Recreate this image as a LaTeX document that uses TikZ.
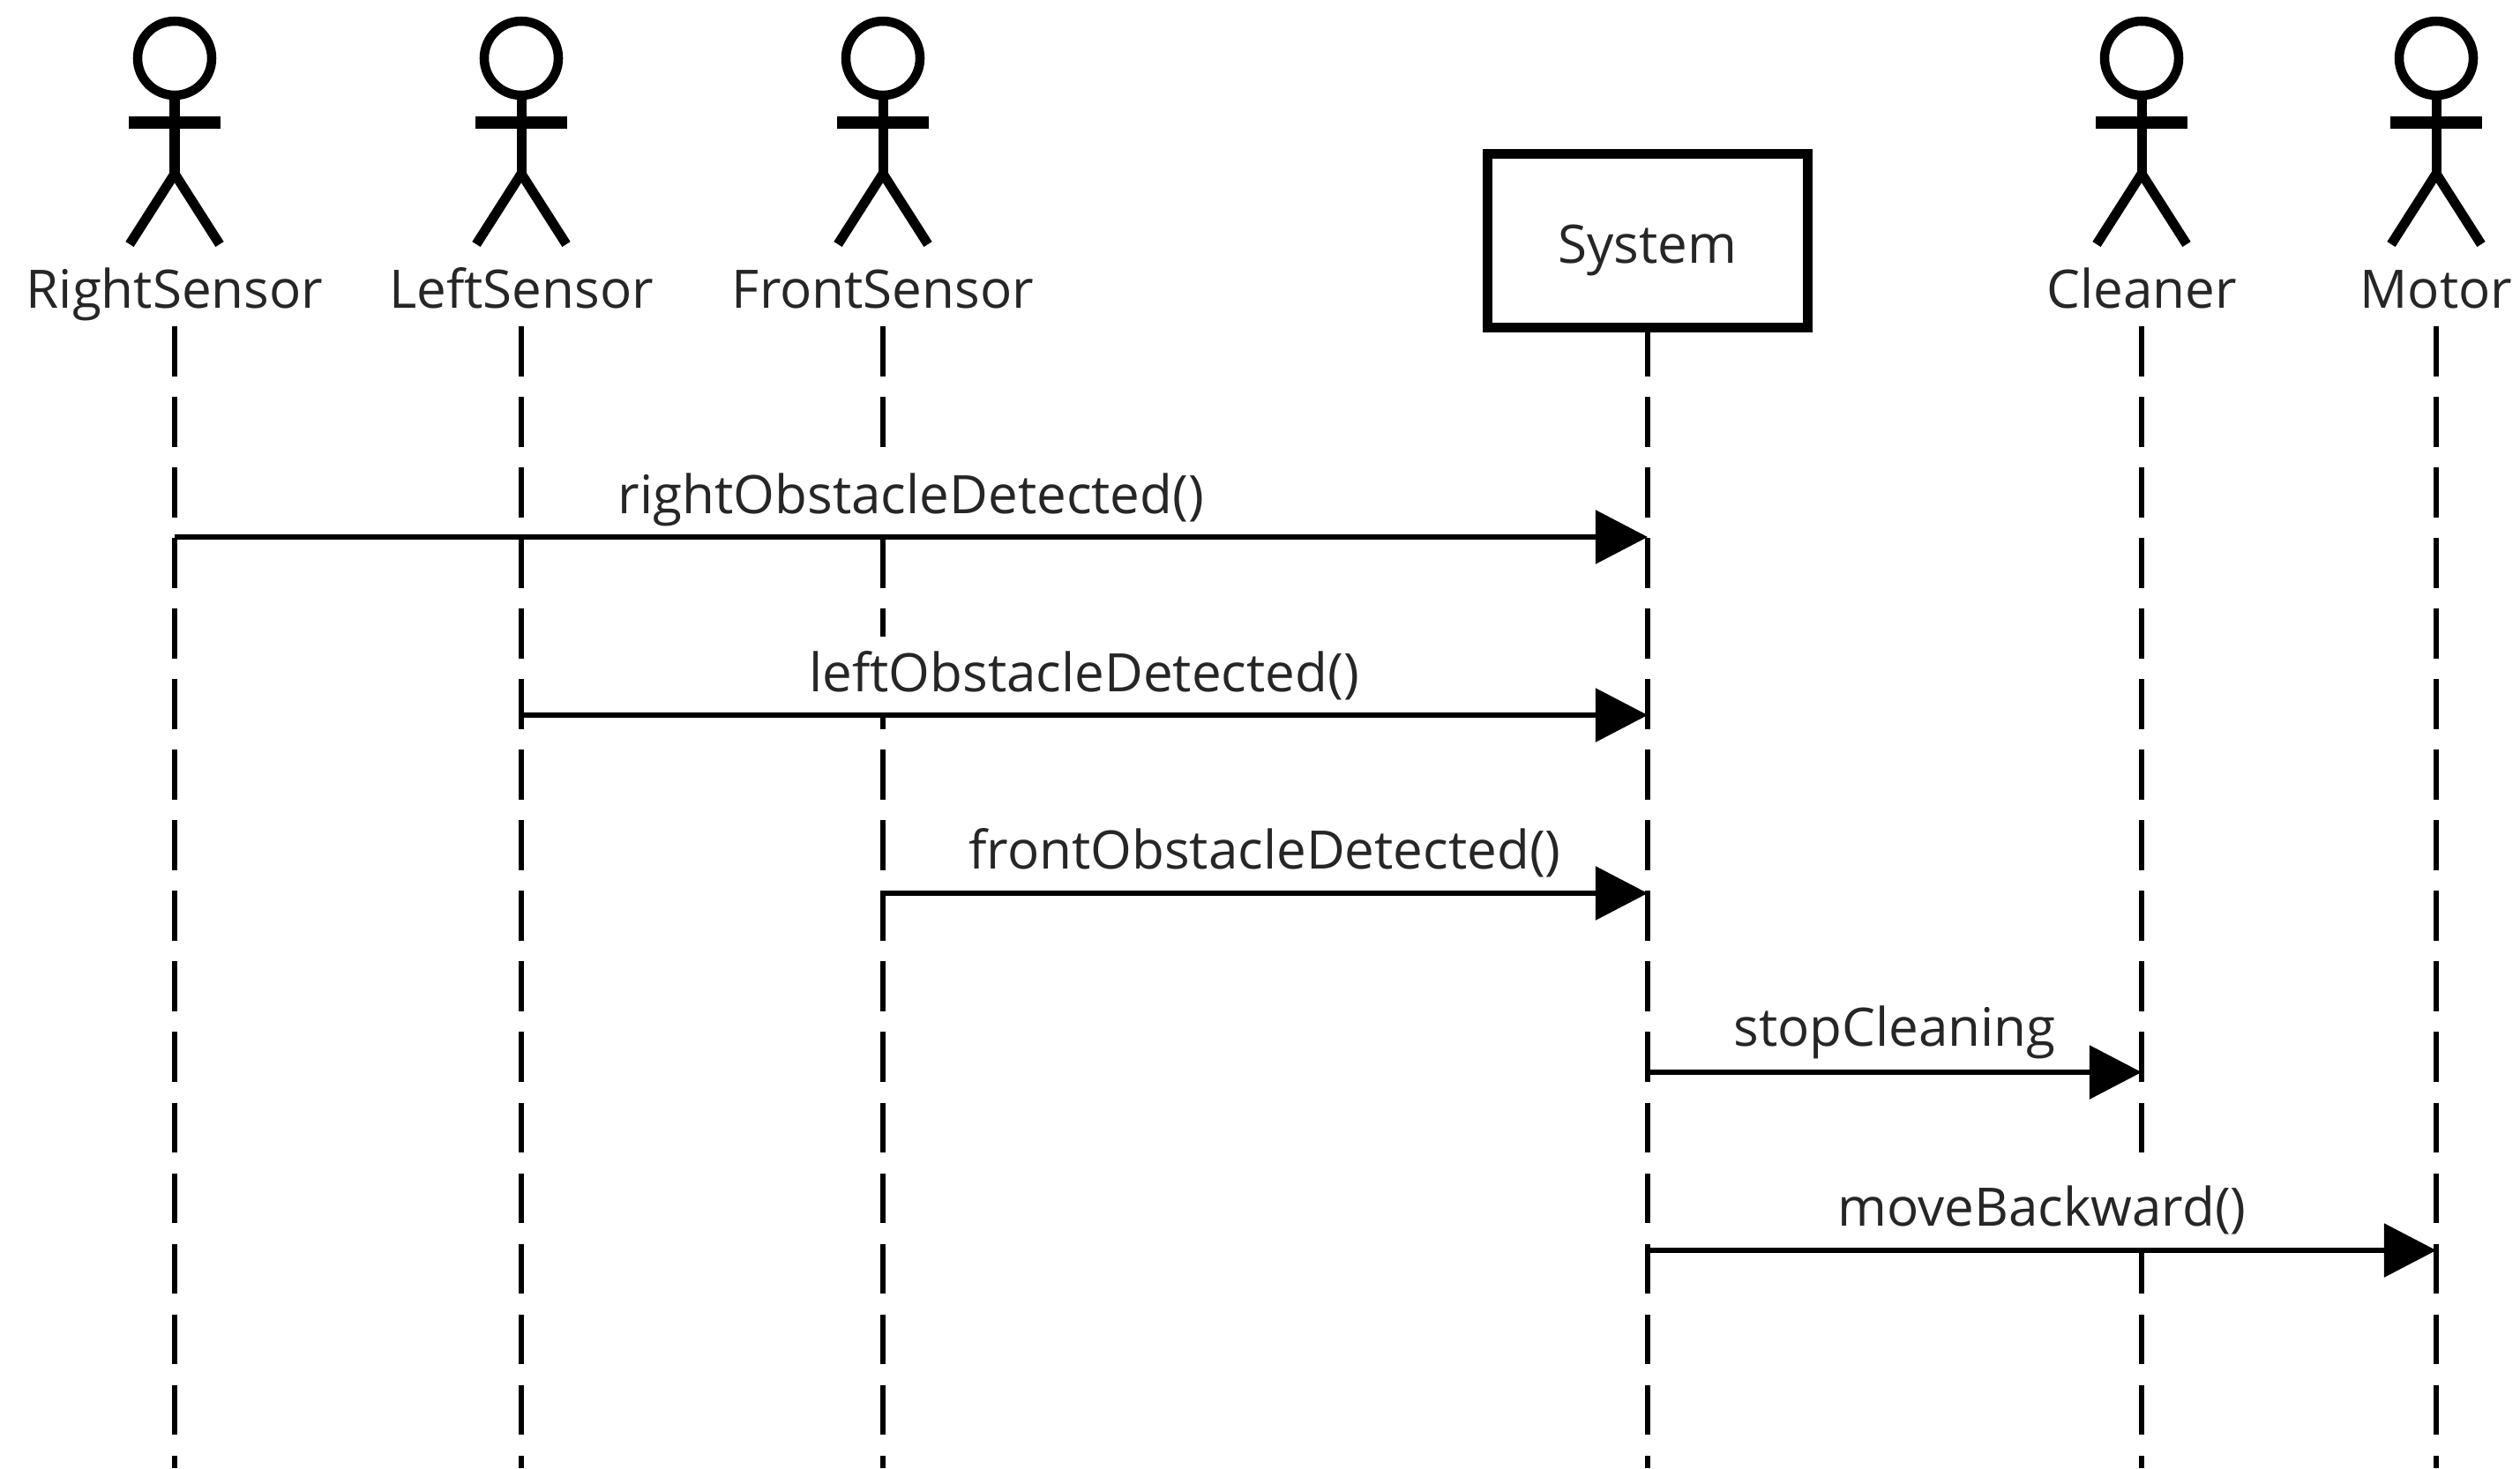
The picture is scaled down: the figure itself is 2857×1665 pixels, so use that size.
\documentclass[tikz,border=0pt]{standalone}
\usepackage{fontspec}
\setmainfont{Open Sans}
\usetikzlibrary{arrows.meta}
\definecolor{ink}{HTML}{000000}
\definecolor{txt}{HTML}{262626}
\tikzset{
  x=0.01cm,y=-0.01cm,
  lifeline/.style={ink,line width=0.055cm,dash pattern=on 0.565cm off 0.235cm},
  message/.style={ink,line width=0.055cm,-{Triangle[length=0.59cm,width=0.6cm]}},
  actorhead/.style={circle,draw=ink,line width=0.105cm,fill=none,minimum size=0.84cm,inner sep=0pt,outer sep=0pt},
  actorline/.style={ink,line width=0.11cm},
  armline/.style={ink,line width=0.14cm},
  label/.style={text=txt,font=\fontsize{17.1}{20}\selectfont,anchor=base,inner sep=0pt},
  msglabel/.style={label,fill=white,text height=0.62cm,text depth=0.25cm,inner xsep=0.04cm},
  sysbox/.style={rectangle,draw=ink,line width=0.11cm,fill=white,minimum width=3.62cm,minimum height=1.96cm,inner sep=0pt},
}
\newcommand{\actor}[3]{%
  \node[actorhead] (#1head) at (#2,66) {};
  \coordinate (#1hip) at (#2,197);
  \coordinate (#1armL) at (#2-52,139);
  \coordinate (#1armR) at (#2+52,139);
  \coordinate (#1legL) at (#2-51,277);
  \coordinate (#1legR) at (#2+51,277);
  \draw[actorline] (#1head.south) -- (#1hip);
  \draw[armline] (#1armL) -- (#1armR);
  \draw[actorline,line join=miter] (#1legL) -- (#1hip) -- (#1legR);
  \node[label] (#1label) at (#2,349) {#3};
  \coordinate (#1top) at (#2,370);
  \coordinate (#1bot) at (#2,1665);
  \draw[lifeline] (#1top) -- (#1bot);
}
\begin{document}
\begin{tikzpicture}
\useasboundingbox (0,0) rectangle (2857,1665);
\fill[white] (0,0) rectangle (2857,1665);
\actor{rs}{198}{RightSensor}
\actor{ls}{591}{LeftSensor}
\actor{fs}{1001}{FrontSensor}
\actor{cl}{2428}{Cleaner}
\actor{mo}{2762}{Motor}
% System lifeline and box
\coordinate (systop) at (1868,370);
\coordinate (sysbot) at (1868,1665);
\draw[lifeline] (systop) -- (sysbot);
\node[sysbox] (sys) at (1868,273) {};
\node[label] (syslabel) at (1868,298) {System};
% Message labels mask the lifelines behind them
\node[msglabel] (t1) at (1033,582) {rightObstacleDetected()};
\node[msglabel] (t2) at (1229,784) {leftObstacleDetected()};
\node[msglabel] (t3) at (1434,985) {frontObstacleDetected()};
\node[msglabel] (t4) at (2148,1186) {stopCleaning};
\node[msglabel] (t5) at (2315,1390) {moveBackward()};
% Messages
\coordinate (m1a) at (198,609);  \coordinate (m1b) at (1868,609);
\coordinate (m2a) at (591,811);  \coordinate (m2b) at (1868,811);
\coordinate (m3a) at (1001,1013); \coordinate (m3b) at (1868,1013);
\coordinate (m4a) at (1868,1216); \coordinate (m4b) at (2428,1216);
\coordinate (m5a) at (1868,1418); \coordinate (m5b) at (2762,1418);
\draw[message] (m1a) -- (m1b);
\draw[message] (m2a) -- (m2b);
\draw[message] (m3a) -- (m3b);
\draw[message] (m4a) -- (m4b);
\draw[message] (m5a) -- (m5b);
\end{tikzpicture}
\end{document}
